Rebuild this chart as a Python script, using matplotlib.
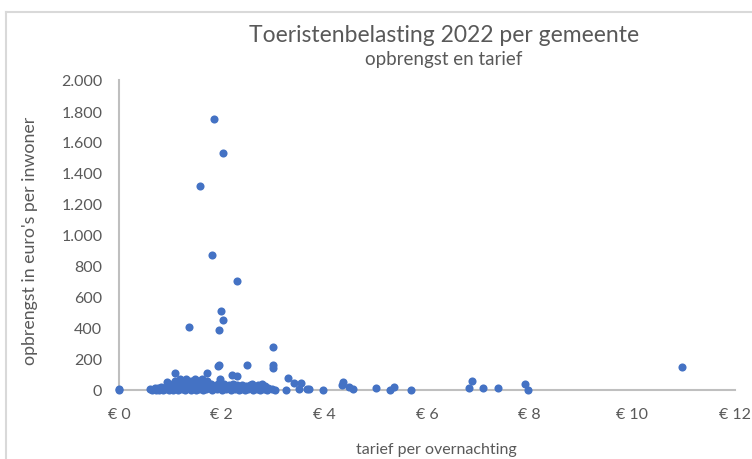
import matplotlib
matplotlib.use("Agg")
import matplotlib.pyplot as plt
from matplotlib.lines import Line2D
from matplotlib.ticker import FuncFormatter

plt.rcParams["font.family"] = ["Lato", "DejaVu Sans"]

# outliers and spread-out municipalities (tarief in euro, opbrengst per inwoner)
tarief_los = [1.86, 2.03, 1.58, 1.81, 2.29, 1.99, 2.03, 1.36, 1.94, 3.00,
              3.00, 3.00, 10.97, 1.95, 1.93, 2.49, 1.09, 1.71, 2.21, 2.29,
              1.97, 3.29, 3.40, 3.55, 3.50, 3.66, 3.71, 3.98, 4.36, 4.35,
              4.49, 4.56, 5.00, 5.28, 5.35, 5.69, 6.82, 6.88, 7.10, 7.39,
              7.90, 7.96, 3.26, 2.98, 3.04, 0.00, 0.00]
opbrengst_los = [1748, 1529, 1318, 871, 703, 510, 450, 404, 385, 280,
                 163, 142, 146, 161, 158, 161, 110, 110, 97, 90,
                 70, 80, 45, 45, 6, 6, 6, 0, 50, 32,
                 17, 6, 11, 2, 17, 0, 11, 56, 11, 11,
                 39, 0, 0, 6, 2, 2, 8]

# dense group of low tariffs
tarief_groep = [0.60, 0.65, 0.70, 0.72, 0.75, 0.78, 0.80, 0.82, 0.85, 0.88,
                0.90, 0.93, 0.95, 0.97, 1.00, 1.00, 1.02, 1.05, 1.05, 1.08,
                1.10, 1.10, 1.12, 1.15, 1.15, 1.18, 1.20, 1.20, 1.22, 1.25,
                1.25, 1.28, 1.30, 1.30, 1.32, 1.35, 1.38, 1.40, 1.40, 1.42,
                1.45, 1.48, 1.50, 1.50, 1.52, 1.55, 1.55, 1.58, 1.60, 1.62,
                1.63, 1.65, 1.68, 1.70, 1.72, 1.75, 1.78, 1.80, 1.82, 1.85,
                1.88, 1.90, 1.92, 1.95, 1.98, 2.00, 2.00, 2.03, 2.05, 2.08,
                2.10, 2.12, 2.15, 2.18, 2.20, 2.22, 2.25, 2.28, 2.30, 2.33,
                2.35, 2.38, 2.40, 2.42, 2.45, 2.48, 2.50, 2.52, 2.55, 2.58,
                2.60, 2.62, 2.65, 2.68, 2.70, 2.72, 2.75, 2.78, 2.80, 2.82,
                2.85, 2.88, 2.90]
opbrengst_groep = [5, 2, 10, 0, 15, 3, 8, 20, 0, 12,
                   5, 50, 25, 2, 15, 35, 5, 28, 0, 45,
                   10, 60, 20, 35, 2, 70, 15, 45, 5, 25,
                   55, 0, 72, 30, 10, 45, 20, 3, 60, 35,
                   12, 70, 25, 0, 45, 8, 60, 30, 15, 72,
                   2, 40, 20, 5, 55, 30, 10, 40, 0, 20,
                   35, 5, 25, 45, 12, 30, 0, 18, 38, 5,
                   25, 10, 30, 2, 20, 40, 8, 15, 30, 0,
                   20, 8, 30, 12, 2, 25, 15, 5, 35, 10,
                   39, 0, 20, 8, 30, 12, 2, 39, 15, 5,
                   25, 0, 10]

x_ticks = [0, 2, 4, 6, 8, 10, 12]
y_ticks = [0, 200, 400, 600, 800, 1000, 1200, 1400, 1600, 1800, 2000]

blauw = "#4472C4"
grijs_tekst = "#595959"

fig = plt.figure(figsize=(7.52, 4.6), dpi=100)
ax = fig.add_axes([119 / 752, 1 - 391 / 460, (735 - 119) / 752, (391 - 81) / 460])

ax.scatter(tarief_groep + tarief_los, opbrengst_groep + opbrengst_los,
           s=34, color=blauw, linewidths=0, zorder=3, clip_on=False)

ax.set_xlim(0, 12)
ax.set_ylim(0, 2000)
ax.set_xticks(x_ticks)
ax.set_yticks(y_ticks)
ax.xaxis.set_major_formatter(FuncFormatter(lambda v, p: "€ %d" % v))
ax.yaxis.set_major_formatter(FuncFormatter(lambda v, p: f"{int(v):,}".replace(",", ".")))
ax.tick_params(length=0, labelsize=11.5, colors=grijs_tekst)
ax.tick_params(axis="x", pad=12)
ax.tick_params(axis="y", pad=12)

for side in ["top", "right"]:
    ax.spines[side].set_visible(False)
for side in ["left", "bottom"]:
    ax.spines[side].set_color("#BFBFBF")
    ax.spines[side].set_linewidth(1.5)

# chart area border (partly cut off)
fig.add_artist(Line2D([6 / 752, 6 / 752], [0, 1 - 13 / 460], color="#D9D9D9", lw=1.5))
fig.add_artist(Line2D([6 / 752, 1], [1 - 13 / 460, 1 - 13 / 460], color="#D9D9D9", lw=1.5))

fig.text(444 / 752, 1 - 35 / 460, "Toeristenbelasting 2022 per gemeente",
         ha="center", va="center", fontsize=16.5, color=grijs_tekst)
fig.text(444 / 752, 1 - 60 / 460, "opbrengst en tarief",
         ha="center", va="center", fontsize=13.5, color=grijs_tekst)
fig.text(30 / 752, 1 - 241 / 460, "opbrengst in euro's per inwoner",
         ha="center", va="center", rotation=90, fontsize=12.8, color=grijs_tekst)
fig.text(436 / 752, 1 - 450 / 460, "tarief per overnachting",
         ha="center", va="center", fontsize=11.5, color=grijs_tekst)

fig.savefig("out.png", dpi=100)
